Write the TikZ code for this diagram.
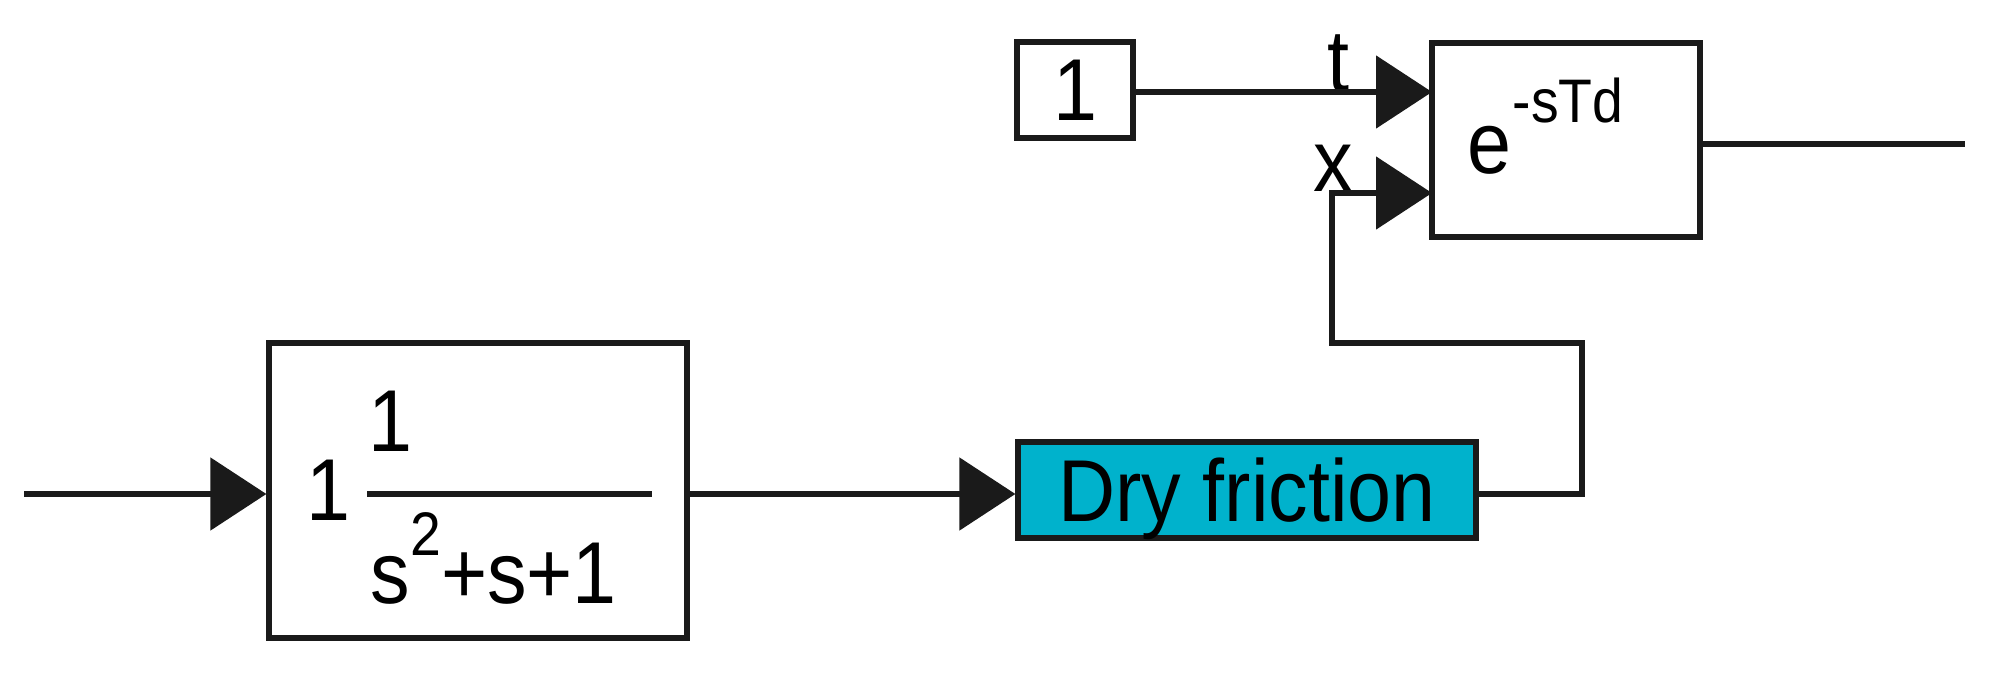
\documentclass[tikz,border=0pt]{standalone}
\usepackage{fontspec}
\setmainfont[FakeStretch=0.9]{Liberation Sans}
\usetikzlibrary{arrows.meta, calc}

\begin{document}
\begin{tikzpicture}[
    block/.style={draw=borderColour, line width=1.5pt, fill=white, inner sep=0pt},
    signal/.style={draw=borderColour, line width=1.5pt, -{Triangle[length=5.6mm, width=7.2mm]}},
    wire/.style={draw=borderColour, line width=1.5pt},
    bigText/.style={font=\fontsize{25}{30}\selectfont, inner sep=0pt, text depth=0pt},
    smallText/.style={font=\fontsize{17.5}{20}\selectfont, inner sep=0pt, text depth=0pt}
]
    \definecolor{borderColour}{HTML}{1A1A1A}
    \definecolor{frictionColour}{HTML}{00B2CC}

    % Fix the picture size
    \useasboundingbox (0,0) rectangle (19.92,6.72);

    % Draw the blocks
    \node[block, minimum width=4.18cm, minimum height=2.95cm] (plant) at (4.78,1.815) {};
    \node[block, bigText, fill=frictionColour, minimum width=4.58cm, minimum height=0.96cm] (friction) at (12.47,1.82) {Dry friction};
    \node[block, bigText, minimum width=1.16cm, minimum height=0.96cm] (one) at (10.75,5.82) {1};
    \node[block, minimum width=2.68cm, minimum height=1.94cm] (delay) at (15.66,5.32) {};

    % Texts of the plant block
    \node[bigText] (gain) at (3.28,1.82) {1};
    \draw[wire] (3.67,1.78) -- (6.52,1.78);
    \node[bigText] (num) at (3.90,2.51) {1};
    \node[bigText, anchor=base west] (den) at (3.70,0.69) {s\raisebox{0.48cm}{\fontsize{17.5}{20}\selectfont 2}+s+1};

    % Texts of the delay block
    \node[bigText] (eBase) at (14.89,5.22) {e};
    \node[smallText] (eExp) at (15.68,5.72) {-sTd};

    % Port labels
    \node[bigText, anchor=base] (tLabel) at (13.38,5.80) {t};
    \node[bigText, anchor=base] (xLabel) at (13.33,4.80) {x};

    % Signal points
    \coordinate (in) at (0.24,1.78);
    \coordinate (out) at (19.65,5.28);
    \coordinate (loopR) at (15.82,3.29);
    \coordinate (loopL) at (13.32,3.29);
    \coordinate (tPort) at (14.32,5.80);
    \coordinate (xPort) at (14.32,4.79);

    % Draw the signals
    \draw[signal] (in) -- (in -| plant.west);
    \draw[signal] (plant.east |- in) -- (friction.west |- in);
    \draw[signal] (one.east |- tPort) -- (tPort);
    \draw[signal] (friction.east |- in) -| (loopR) -- (loopL) |- (xPort);
    \draw[wire] (delay.east |- out) -- (out);
\end{tikzpicture}
\end{document}
